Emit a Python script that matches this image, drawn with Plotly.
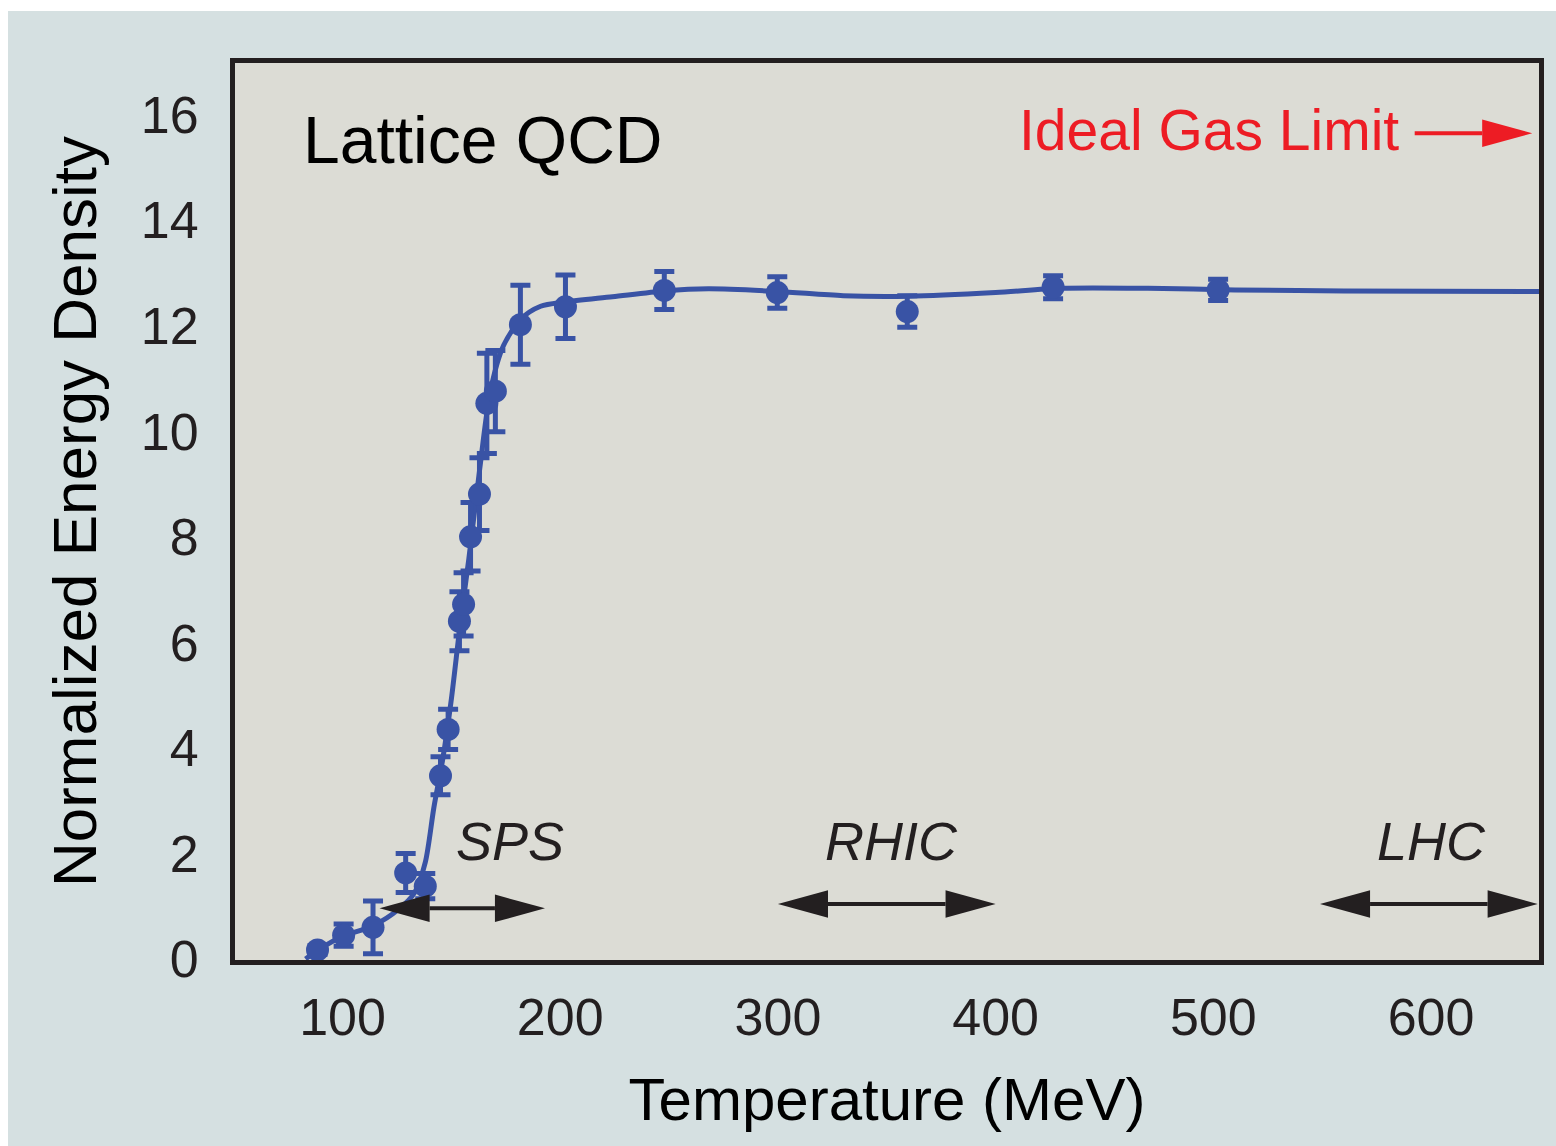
import plotly.graph_objects as go

# ---- data ----
temp_pts = [88.5, 100.5, 114, 129, 138, 145, 148.5, 153.7, 155.6, 158.8,
            162.9, 166.3, 170.2, 181.7, 202.4, 247.8, 299.7, 359.4, 426.4, 502.2]
energy_pts = [0.17, 0.45, 0.6, 1.63, 1.38, 3.47, 4.35, 6.4, 6.72, 8.0,
              8.81, 10.53, 10.76, 12.02, 12.36, 12.67, 12.63, 12.27, 12.73, 12.68]
energy_err = [0.08, 0.21, 0.5, 0.37, 0.24, 0.36, 0.38, 0.56, 0.6, 0.65,
              0.69, 0.95, 0.77, 0.75, 0.6, 0.36, 0.3, 0.3, 0.22, 0.2]

curve_temp = [83, 90, 100, 114, 126, 133, 138, 142, 146, 150, 154, 158, 163, 168,
              174, 182, 191, 202, 224, 248, 268, 300, 330, 360, 400, 430, 470, 510, 560, 650]
curve_energy = [0.0, 0.2, 0.43, 0.63, 0.95, 1.25, 1.83, 2.88, 3.78, 4.93, 6.33, 7.58, 9.28, 10.78,
                11.63, 12.13, 12.37, 12.45, 12.55, 12.66, 12.7, 12.65, 12.57, 12.56, 12.63,
                12.71, 12.71, 12.68, 12.66, 12.65]

x_ticks = [100, 200, 300, 400, 500, 600]
y_ticks = [0, 2, 4, 6, 8, 10, 12, 14, 16]

beams = ["SPS", "RHIC", "LHC"]
beam_lo = [117, 300, 549]
beam_hi = [193, 400, 649]
beam_label_x = [177, 352, 600]

BLUE = "#3953a5"
BLACK = "#231f20"
RED = "#ed1c24"
FONT = "Liberation Sans, Arial, sans-serif"

X_RANGE = [50.6, 649.6]
Y_RANGE = [-0.02, 16.98]

ML, MR, MT, MB = 235, 17, 63, 186
PW, PH = 1556 - ML - MR, 1146 - MT - MB

fig = go.Figure()

fig.add_trace(go.Scatter(
    x=curve_temp, y=curve_energy, mode="lines",
    line=dict(color=BLUE, width=5, shape="spline", smoothing=0.8),
    hoverinfo="skip", showlegend=False,
))

fig.add_trace(go.Scatter(
    x=temp_pts, y=energy_pts, mode="markers",
    marker=dict(color=BLUE, size=23),
    error_y=dict(type="data", array=energy_err, visible=True,
                 color=BLUE, thickness=5, width=10),
    showlegend=False,
))

shapes = []
# white outer strips of the picture
shapes.append(dict(type="rect", xref="paper", yref="paper",
                   x0=-ML/PW, x1=-(ML - 8)/PW, y0=-MB/PH, y1=(PH + MT)/PH,
                   fillcolor="white", line=dict(width=0), layer="below"))
shapes.append(dict(type="rect", xref="paper", yref="paper",
                   x0=-ML/PW, x1=(PW + MR)/PW, y0=(PH + MT - 11)/PH, y1=(PH + MT)/PH,
                   fillcolor="white", line=dict(width=0), layer="below"))

head_len = 23.0   # MeV
head_half = 0.26  # energy units


def arrow(x0, x1, y, color, both=True):
    out = []
    start = x0 + head_len if both else x0
    out.append(dict(type="line", x0=start, x1=x1 - head_len, y0=y, y1=y,
                    line=dict(color=color, width=4)))
    out.append(dict(type="path",
                    path=f"M {x1},{y} L {x1-head_len},{y+head_half} L {x1-head_len},{y-head_half} Z",
                    fillcolor=color, line=dict(color=color, width=0)))
    if both:
        out.append(dict(type="path",
                        path=f"M {x0},{y} L {x0+head_len},{y+head_half} L {x0+head_len},{y-head_half} Z",
                        fillcolor=color, line=dict(color=color, width=0)))
    return out


beam_arrow_y = [0.96, 1.04, 1.04]
for lo, hi, yy in zip(beam_lo, beam_hi, beam_arrow_y):
    shapes += arrow(lo, hi, yy, BLACK)

shapes += arrow(592.5, 646.5, 15.65, RED, both=False)

annotations = []
for name, lx in zip(beams, beam_label_x):
    annotations.append(dict(x=lx, y=2.23, text=f"<i>{name}</i>", showarrow=False,
                            font=dict(family=FONT, size=54, color=BLACK),
                            xanchor="center", yanchor="middle"))
annotations.append(dict(x=164.5, y=15.52, text="Lattice QCD", showarrow=False,
                        font=dict(family=FONT, size=66, color="black"),
                        xanchor="center", yanchor="middle"))
annotations.append(dict(x=498, y=15.71, text="Ideal Gas Limit", showarrow=False,
                        font=dict(family=FONT, size=57, color=RED),
                        xanchor="center", yanchor="middle"))

fig.update_layout(
    width=1556, height=1146,
    margin=dict(l=ML, r=MR, t=MT, b=MB),
    paper_bgcolor="#d5e0e1",
    plot_bgcolor="#dcdcd5",
    shapes=shapes,
    annotations=annotations,
    font=dict(family=FONT, color=BLACK),
    xaxis=dict(range=X_RANGE, tickvals=x_ticks, ticktext=[str(v) for v in x_ticks],
               showgrid=False, zeroline=False, showline=True, mirror=True,
               linecolor=BLACK, linewidth=5, ticks="", ticklabelstandoff=8,
               tickfont=dict(family=FONT, size=52, color=BLACK),
               title=dict(text="Temperature (MeV)", standoff=34,
                          font=dict(family=FONT, size=60, color="black"))),
    yaxis=dict(range=Y_RANGE, tickvals=y_ticks, ticktext=[str(v) for v in y_ticks],
               showgrid=False, zeroline=False, showline=True, mirror=True,
               linecolor=BLACK, linewidth=5, ticks="", ticklabelstandoff=21,
               tickfont=dict(family=FONT, size=52, color=BLACK),
               title=dict(text="Normalized Energy Density", standoff=26,
                          font=dict(family=FONT, size=62, color="black"))),
)

fig.write_html("out.html")
